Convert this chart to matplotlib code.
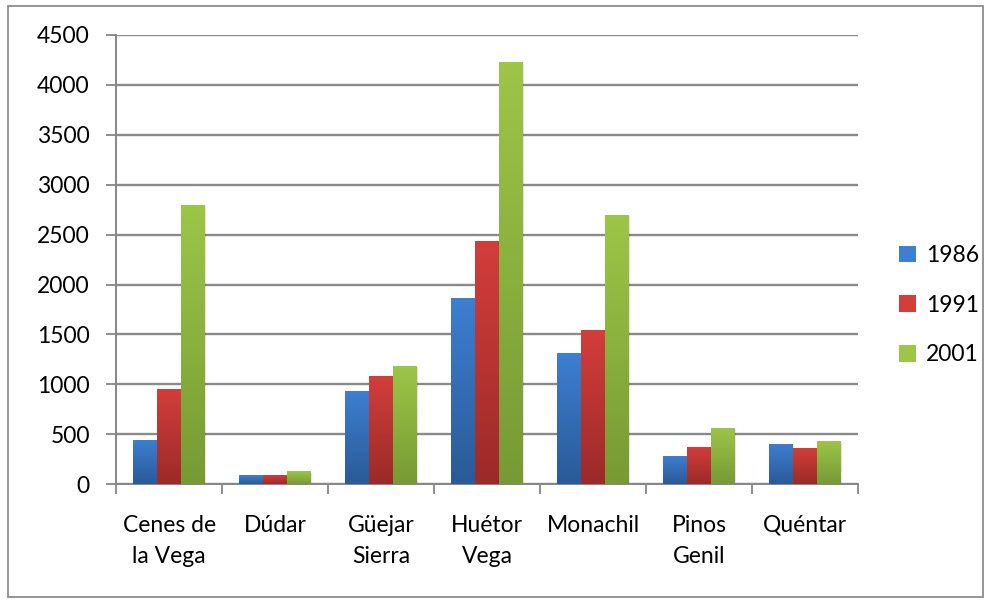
import numpy as np
import matplotlib.pyplot as plt
from matplotlib.patches import Rectangle, Patch
import matplotlib.colors as mcolors

plt.rcParams['font.family'] = ['Lato', 'DejaVu Sans']

municipios = ["Cenes de\nla Vega", "Dúdar", "Güejar\nSierra", "Huétor\nVega",
              "Monachil", "Pinos\nGenil", "Quéntar"]
years = ["1986", "1991", "2001"]
v1986 = [445, 90, 934, 1867, 1315, 281, 402]
v1991 = [954, 90, 1087, 2440, 1546, 375, 362]
v2001 = [2801, 130, 1188, 4227, 2700, 565, 432]

# top / bottom colours of the gradient fill
tops = ["#3d7fd2", "#d33e3b", "#9dc647"]
bots = ["#2a5a97", "#9b2a28", "#779a34"]

fig = plt.figure(figsize=(9.93, 6.03), dpi=100)
ax = fig.add_axes([0.117, 0.197, 0.747, 0.745])

x = np.arange(len(municipios))
w = 0.226
series = [v1986, v1991, v2001]
for i, vals in enumerate(series):
    bars = ax.bar(x + (i - 1) * w, vals, width=w, color=tops[i], zorder=3,
                  linewidth=0)
    cmap = mcolors.LinearSegmentedColormap.from_list("g", [bots[i], tops[i]])
    grad = np.linspace(0, 1, 256).reshape(-1, 1)
    for b in bars:
        bx, by = b.get_x(), b.get_y()
        bw, bh = b.get_width(), b.get_height()
        # soft shadow to the right
        ax.add_patch(Rectangle((bx + 0.012, by), bw, bh - 15, color="#000000",
                               alpha=0.10, zorder=2, linewidth=0))
        im = ax.imshow(grad, cmap=cmap, origin="lower", aspect="auto",
                       extent=(bx, bx + bw, by, by + bh), zorder=3.5)
        im.set_clip_path(b)

fs = 16.5
ax.set_xlim(-0.5, len(municipios) - 0.5)
ax.set_ylim(0, 4500)
ax.set_yticks(np.arange(0, 4501, 500))
ax.set_xticks(np.arange(-0.5, len(municipios), 1), minor=False)
ax.set_xticklabels([])
ax.set_xticks(x, minor=True)
ax.set_xticklabels(municipios, minor=True, fontsize=fs, linespacing=1.6)
ax.tick_params(axis="x", which="minor", length=0, pad=22)
ax.tick_params(axis="x", which="major", length=7, width=1.3, color="#868686",
               direction="out")
ax.tick_params(axis="y", length=7, width=1.3, color="#868686", labelsize=fs,
               pad=12)
ax.grid(axis="y", color="#8a8a8a", linewidth=1.7, zorder=0)
for s in ["top", "right"]:
    ax.spines[s].set_visible(False)
for s in ["left", "bottom"]:
    ax.spines[s].set_color("#868686")
    ax.spines[s].set_linewidth(1.4)

handles = [Patch(facecolor=tops[i], edgecolor="none") for i in range(3)]
leg = fig.legend(handles, years, loc="center left",
                 bbox_to_anchor=(0.905, 0.494), frameon=False, fontsize=fs,
                 handlelength=0.75, handleheight=0.75, handletextpad=0.45,
                 labelspacing=1.25, borderpad=0, borderaxespad=0)

fig.add_artist(Rectangle((8 / 993, 6 / 603), 975 / 993, 591 / 603,
                         transform=fig.transFigure, fill=False,
                         edgecolor="#8c8c8c", linewidth=1.3))

fig.savefig("out.png", dpi=100)
